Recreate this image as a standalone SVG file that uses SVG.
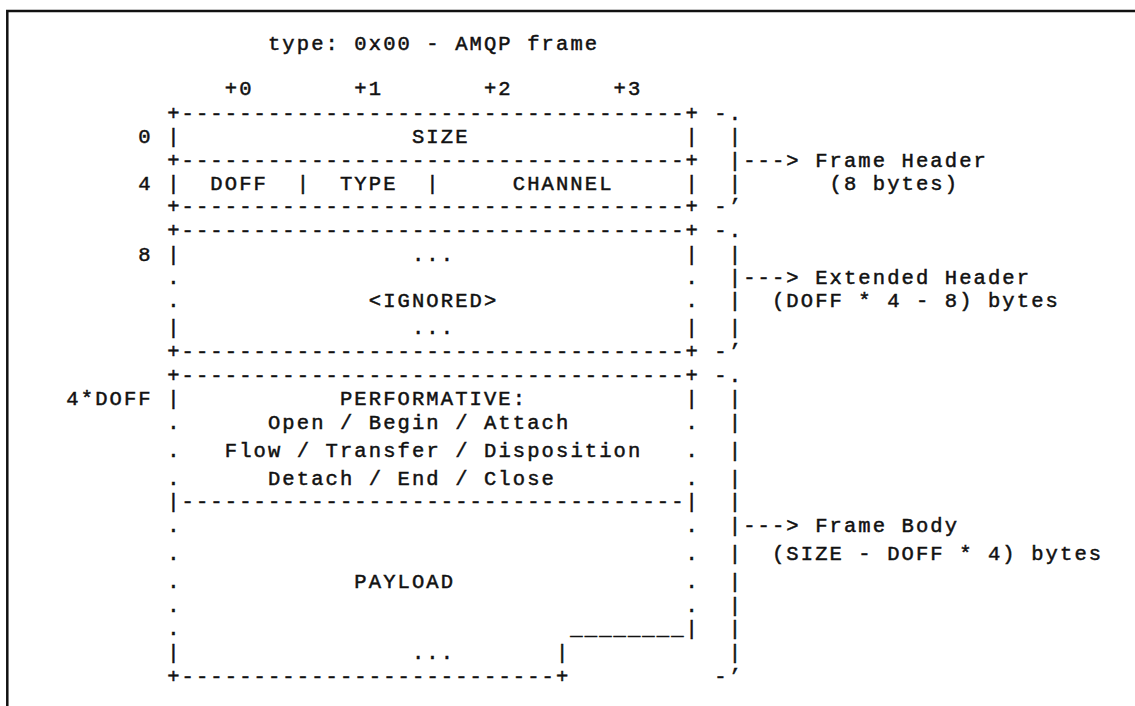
<svg xmlns="http://www.w3.org/2000/svg" width="1135" height="706" viewBox="0 0 1135 706" xml:space="preserve">
  <style>
    /* monospace grid: 12.3px advance + 2.1px spacing = 14.4px per column */
    .t { font-family: "Liberation Mono", "DejaVu Sans Mono", monospace; font-size: 20.5px; letter-spacing: 2.1px;
         fill: #111; stroke: #111; stroke-width: 0.5px; }
    .frame { stroke: #111; stroke-width: 2.5; fill: none; }
  </style>
  <rect x="0" y="0" width="1135" height="706" fill="#fff"/>
  <!-- page frame -->
  <path class="frame" d="M7.3 706 V11 H1135"/>

  <!-- heading and byte offsets -->
  <g id="heading">
    <text class="t" x="267.95" y="50">type: 0x00 - AMQP frame</text>
    <text class="t" x="224.75" y="95">+0</text>
    <text class="t" x="354.35" y="95">+1</text>
    <text class="t" x="483.95" y="95">+2</text>
    <text class="t" x="613.55" y="95">+3</text>
  </g>

  <!-- fixed 8-byte header -->
  <g id="frame-header">
    <text class="t" x="167.15" y="120">+-----------------------------------+</text>
    <text class="t" x="138.35" y="143.33">0</text>
    <text class="t" x="167.15" y="143.33">|</text>
    <text class="t" x="411.95" y="143.33">SIZE</text>
    <text class="t" x="685.55" y="143.33">|</text>
    <text class="t" x="167.15" y="166.67">+-----------------------------------+</text>
    <text class="t" x="138.35" y="190">4</text>
    <text class="t" x="167.15" y="190">|</text>
    <text class="t" x="210.35" y="190">DOFF</text>
    <text class="t" x="296.75" y="190">|</text>
    <text class="t" x="339.95" y="190">TYPE</text>
    <text class="t" x="426.35" y="190">|</text>
    <text class="t" x="512.75" y="190">CHANNEL</text>
    <text class="t" x="685.55" y="190">|</text>
    <text class="t" x="167.15" y="213.33">+-----------------------------------+</text>
  </g>

  <!-- extended header -->
  <g id="extended-header">
    <text class="t" x="167.15" y="237.3">+-----------------------------------+</text>
    <text class="t" x="138.35" y="260.7">8</text>
    <text class="t" x="167.15" y="260.7">|</text>
    <text class="t" x="411.95" y="260.7">...</text>
    <text class="t" x="685.55" y="260.7">|</text>
    <text class="t" x="167.15" y="284">.</text>
    <text class="t" x="685.55" y="284">.</text>
    <text class="t" x="167.15" y="307.3">.</text>
    <text class="t" x="368.75" y="307.3">&lt;IGNORED&gt;</text>
    <text class="t" x="685.55" y="307.3">.</text>
    <text class="t" x="167.15" y="334">|</text>
    <text class="t" x="411.95" y="334">...</text>
    <text class="t" x="685.55" y="334">|</text>
    <text class="t" x="167.15" y="358">+-----------------------------------+</text>
  </g>

  <!-- frame body: performative and payload -->
  <g id="frame-body">
    <text class="t" x="167.15" y="382">+-----------------------------------+</text>
    <text class="t" x="66.35" y="405.3">4*DOFF</text>
    <text class="t" x="167.15" y="405.3">|</text>
    <text class="t" x="339.95" y="405.3">PERFORMATIVE:</text>
    <text class="t" x="685.55" y="405.3">|</text>
    <text class="t" x="167.15" y="428.6">.</text>
    <text class="t" x="267.95" y="428.6">Open / Begin / Attach</text>
    <text class="t" x="685.55" y="428.6">.</text>
    <text class="t" x="167.15" y="456.7">.</text>
    <text class="t" x="224.75" y="456.7">Flow / Transfer / Disposition</text>
    <text class="t" x="685.55" y="456.7">.</text>
    <text class="t" x="167.15" y="485">.</text>
    <text class="t" x="267.95" y="485">Detach / End / Close</text>
    <text class="t" x="685.55" y="485">.</text>
    <text class="t" x="167.15" y="508.3">|-----------------------------------|</text>
    <text class="t" x="167.15" y="532">.</text>
    <text class="t" x="685.55" y="532">.</text>
    <text class="t" x="167.15" y="560">.</text>
    <text class="t" x="685.55" y="560">.</text>
    <text class="t" x="167.15" y="588">.</text>
    <text class="t" x="354.35" y="588">PAYLOAD</text>
    <text class="t" x="685.55" y="588">.</text>
    <text class="t" x="167.15" y="611.5">.</text>
    <text class="t" x="685.55" y="611.5">.</text>
    <text class="t" x="167.15" y="635">.</text>
    <text class="t" x="570.35" y="635">________|</text>
    <text class="t" x="167.15" y="659">|</text>
    <text class="t" x="411.95" y="659">...</text>
    <text class="t" x="555.95" y="659">|</text>
    <text class="t" x="167.15" y="683">+--------------------------+</text>
  </g>

  <!-- braces and arrows -->
  <g id="connectors">
    <text class="t" x="714.35" y="120">-.</text>
    <text class="t" x="728.75" y="143.33">|</text>
    <text class="t" x="728.75" y="166.67">|---&gt;</text>
    <text class="t" x="728.75" y="190">|</text>
    <text class="t" x="714.35" y="213.33">-’</text>

    <text class="t" x="714.35" y="237.3">-.</text>
    <text class="t" x="728.75" y="260.7">|</text>
    <text class="t" x="728.75" y="284">|---&gt;</text>
    <text class="t" x="728.75" y="307.3">|</text>
    <text class="t" x="728.75" y="334">|</text>
    <text class="t" x="714.35" y="358">-’</text>

    <text class="t" x="714.35" y="382">-.</text>
    <text class="t" x="728.75" y="405.3">|</text>
    <text class="t" x="728.75" y="428.6">|</text>
    <text class="t" x="728.75" y="456.7">|</text>
    <text class="t" x="728.75" y="485">|</text>
    <text class="t" x="728.75" y="508.3">|</text>
    <text class="t" x="728.75" y="532">|---&gt;</text>
    <text class="t" x="728.75" y="560">|</text>
    <text class="t" x="728.75" y="588">|</text>
    <text class="t" x="728.75" y="611.5">|</text>
    <text class="t" x="728.75" y="635">|</text>
    <text class="t" x="728.75" y="659">|</text>
    <text class="t" x="714.35" y="683">-’</text>
  </g>

  <!-- section labels -->
  <g id="label-frame-header">
    <text class="t" x="815.15" y="166.67">Frame Header</text>
    <text class="t" x="829.55" y="190">(8 bytes)</text>
  </g>
  <g id="label-extended-header">
    <text class="t" x="815.15" y="284">Extended Header</text>
    <text class="t" x="771.95" y="307.3">(DOFF * 4 - 8) bytes</text>
  </g>
  <g id="label-frame-body">
    <text class="t" x="815.15" y="532">Frame Body</text>
    <text class="t" x="771.95" y="560">(SIZE - DOFF * 4) bytes</text>
  </g>
</svg>
